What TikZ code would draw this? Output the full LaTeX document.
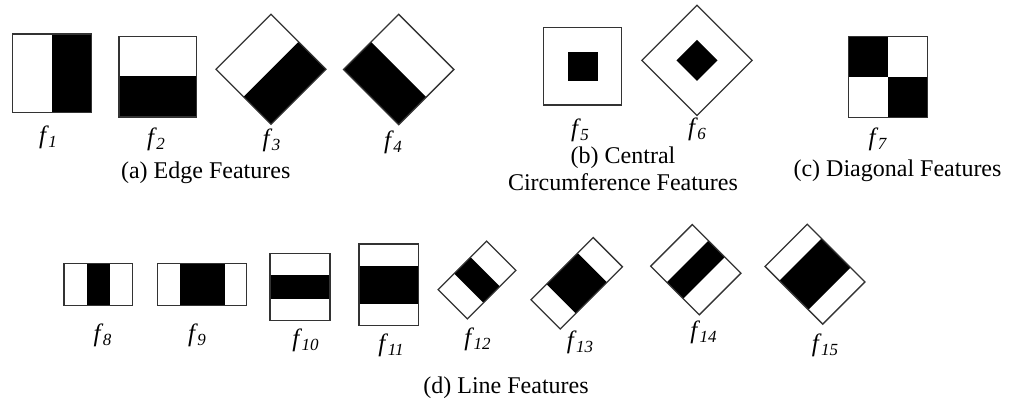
\documentclass[tikz,border=0pt]{standalone}
\usepackage{fontspec}
\setmainfont{Liberation Serif}
\newcommand{\fsub}[1]{\textit{f}\hspace{-0.5pt}\raisebox{-4pt}{\fontsize{17}{17}\selectfont\itshape #1}}
\begin{document}
\begin{tikzpicture}[x=1pt,y=-1pt,
  outline/.style={draw=black!80, line width=1.3pt, line join=miter},
  blk/.style={fill=black},
  flabel/.style={anchor=base, inner sep=0pt, font=\fontsize{25}{28}\selectfont},
  caption/.style={anchor=base, inner sep=0pt, font=\fontsize{24}{27}\selectfont}]
\useasboundingbox (0,0) rectangle (1021,405);

% ---------- (a) edge features ----------
% f1: white left, black right
\fill[blk] (51.7,34) rectangle (91.7,112.3);
\draw[outline] (12.3,34) rectangle (91.7,112.3);
% f2: white top, black bottom
\fill[blk] (119,76) rectangle (196.7,117);
\draw[outline] (119,36.7) rectangle (196.7,117);
% f3: rotated edge, black lower-right half
\begin{scope}[shift={(271,69.3)}, rotate=45]
  \fill[blk] (-38.9,0) rectangle (38.9,38.9);
  \draw[outline] (-38.9,-38.9) rectangle (38.9,38.9);
\end{scope}
% f4: rotated edge, black lower-left half
\begin{scope}[shift={(398.7,69.5)}, rotate=45]
  \fill[blk] (-39,-39) rectangle (0,39);
  \draw[outline] (-39,-39) rectangle (39,39);
\end{scope}

% ---------- (b) central circumference features ----------
\fill[blk] (567.7,51.7) rectangle (598.3,81);
\draw[outline] (543.3,27.3) rectangle (621.7,105);
\begin{scope}[shift={(697,60.4)}, rotate=45]
  \fill[blk] (-14.5,-14.5) rectangle (14.5,14.5);
  \draw[outline] (-39,-39) rectangle (39,39);
\end{scope}

% ---------- (c) diagonal features ----------
\fill[blk] (848.3,36.7) rectangle (887.7,76.7);
\fill[blk] (887.7,76.7) rectangle (927.3,117.7);
\draw[outline] (848.3,36.7) rectangle (927.3,117.7);

% ---------- (d) line features ----------
% f8
\fill[blk] (86.5,263.3) rectangle (109.9,305.7);
\draw[outline] (64,263.3) rectangle (132.3,305.7);
% f9
\fill[blk] (179.6,263.3) rectangle (224.5,305.7);
\draw[outline] (157.3,263.3) rectangle (246.7,305.7);
% f10
\fill[blk] (270,275.3) rectangle (330,298.5);
\draw[outline] (270,253.3) rectangle (330,320.7);
% f11
\fill[blk] (359,265.7) rectangle (418.3,304.2);
\draw[outline] (359,244) rectangle (418.3,325.7);
% f12
\begin{scope}[shift={(477,280)}, rotate=45]
  \fill[blk] (-11.5,-20.7) rectangle (11.5,20.7);
  \draw[outline] (-34.3,-20.7) rectangle (34.3,20.7);
\end{scope}
% f13
\begin{scope}[shift={(576.7,283.3)}, rotate=45]
  \fill[blk] (-22,-20.7) rectangle (22,20.7);
  \draw[outline] (-44,-20.7) rectangle (44,20.7);
\end{scope}
% f14
\begin{scope}[shift={(695.8,269.7)}, rotate=45]
  \fill[blk] (-29.4,-11.5) rectangle (29.4,11.5);
  \draw[outline] (-29.4,-34.4) rectangle (29.4,34.4);
\end{scope}
% f15
\begin{scope}[shift={(815,274.2)}, rotate=45]
  \fill[blk] (-29.8,-20.5) rectangle (29.8,20.5);
  \draw[outline] (-29.8,-40.8) rectangle (29.8,40.8);
\end{scope}

% ---------- feature labels ----------
\node[flabel] (l1)  at (48,143.5)    {\fsub{1}};
\node[flabel] (l2)  at (156,145.5)   {\fsub{2}};
\node[flabel] (l3)  at (271.5,146.5) {\fsub{3}};
\node[flabel] (l4)  at (393,148.5)   {\fsub{4}};
\node[flabel] (l5)  at (580,136.5)   {\fsub{5}};
\node[flabel] (l6)  at (697,135.5)   {\fsub{6}};
\node[flabel] (l7)  at (877.5,145)   {\fsub{7}};
\node[flabel] (l8)  at (102.5,341)   {\fsub{8}};
\node[flabel] (l9)  at (197,341.5)   {\fsub{9}};
\node[flabel] (l10) at (305.5,346.5) {\fsub{10}};
\node[flabel] (l11) at (391,351.5)   {\fsub{11}};
\node[flabel] (l12) at (477.5,345)   {\fsub{12}};
\node[flabel] (l13) at (580,348.5)   {\fsub{13}};
\node[flabel] (l14) at (703.5,338.5) {\fsub{14}};
\node[flabel] (l15) at (825,351.5)   {\fsub{15}};

% ---------- group captions ----------
\node[caption] (capa)  at (205.7,178.3) {(a) Edge Features};
\node[caption] (capb1) at (623,163)     {(b) Central};
\node[caption] (capb2) at (623,190)     {Circumference Features};
\node[caption] (capc)  at (897.5,176.7) {(c) Diagonal Features};
\node[caption] (capd)  at (506,393)     {(d) Line Features};
\end{tikzpicture}
\end{document}
